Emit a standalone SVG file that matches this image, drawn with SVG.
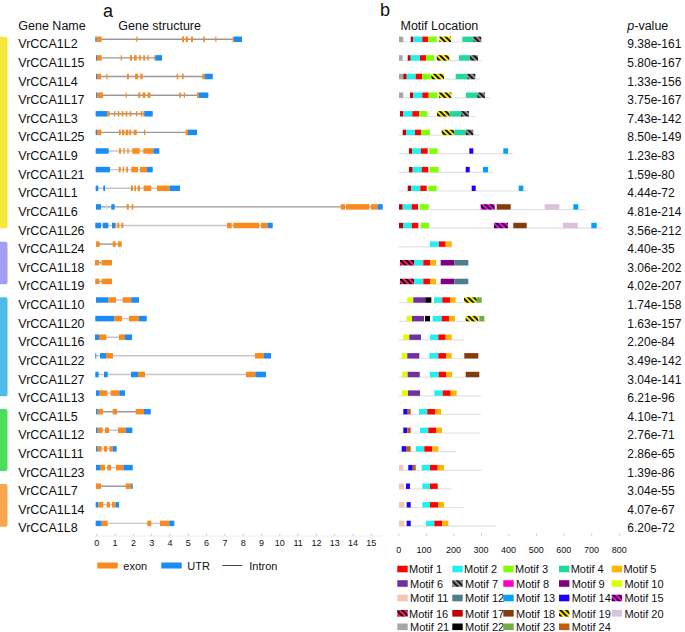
<svg xmlns="http://www.w3.org/2000/svg" width="685" height="632" viewBox="0 0 685 632">
<style>
text{font-family:"Liberation Sans",Arial,sans-serif;fill:#111}
.h{font-size:12.5px}
.n{font-size:12.5px}
.pv{font-size:12px}
.ax{font-size:9px;text-anchor:middle}
.lg{font-size:11px}
.i{stroke:#999;stroke-width:1.4}
.il{stroke:#c6c6c6;stroke-width:1.4}
.e{fill:#fb8a1e}
.u{fill:#1a8cf5}
.ml{stroke:#e2e2e2;stroke-width:1.2}
.m1{fill:#ff0000}.m2{fill:#22f0f0}.m3{fill:#80ff00}.m4{fill:#20d8a0}.m5{fill:#ffb400}
.m6{fill:#7030a0}.m7{fill:url(#p7)}.m8{fill:#ff00cc}.m9{fill:#800080}.m10{fill:#dcff00}
.m11{fill:#f4c6b0}.m12{fill:#4b7f8b}.m13{fill:#00a2ff}.m14{fill:#1a00ff}.m15{fill:url(#p15)}
.m16{fill:url(#p16)}.m17{fill:#c00000}.m18{fill:#843c0c}.m19{fill:url(#p19)}.m20{fill:#d9c3d9}
.m21{fill:#a6a6a6}.m22{fill:#000}.m23{fill:#70ad47}.m24{fill:#c55a11}
</style>
<defs>
<pattern id="p19" width="4" height="4" patternUnits="userSpaceOnUse" patternTransform="rotate(-45)"><rect width="4" height="4" fill="#ffee00"/><rect width="1.8" height="4" fill="#000"/></pattern>
<pattern id="p7" width="4" height="4" patternUnits="userSpaceOnUse" patternTransform="rotate(-45)"><rect width="4" height="4" fill="#8c8c8c"/><rect width="1.6" height="4" fill="#000"/></pattern>
<pattern id="p15" width="4" height="4" patternUnits="userSpaceOnUse" patternTransform="rotate(-45)"><rect width="4" height="4" fill="#ff00ff"/><rect width="1.8" height="4" fill="#000"/></pattern>
<pattern id="p16" width="4" height="4" patternUnits="userSpaceOnUse" patternTransform="rotate(-45)"><rect width="4" height="4" fill="#ff1a66"/><rect width="1.8" height="4" fill="#000"/></pattern>
</defs>
<rect width="685" height="632" fill="#fff"/>

<!-- headers -->
<g id="headers">
<text x="103" y="17" style="font-size:18px">a</text>
<text x="380" y="16" style="font-size:18px">b</text>
<text class="h" x="18.3" y="30">Gene Name</text>
<text class="h" x="118.3" y="30">Gene structure</text>
<text class="h" x="400.5" y="30">Motif Location</text>
<text class="h" x="627.3" y="30"><tspan font-style="italic">p</tspan>-value</text>
</g>

<!-- group bars -->
<g id="groups">
<rect x="-3" y="36.7" width="10.5" height="191.5" rx="2" fill="#f5e83b"/>
<rect x="-3" y="241.7" width="10.5" height="42.6" rx="2" fill="#a29ef5"/>
<rect x="-3" y="297.3" width="10.5" height="99" rx="2" fill="#4dbde8"/>
<rect x="-3" y="409" width="10.5" height="62" rx="2" fill="#4cdf5c"/>
<rect x="-3" y="484" width="10.5" height="42.7" rx="2" fill="#f9a64f"/>
</g>

<g id="connectors"></g>

<!-- rows -->
<g id="VrCCA1L2" transform="translate(0,39.3)">
<text class="n" x="18.3" y="9">VrCCA1L2</text>
<line class="i" x1="95.3" x2="242"/>
<rect class="u" x="95.3" y="-2.75" width="1.4" height="5.5"/><rect class="e" x="96.7" y="-2.75" width="5" height="5.5"/>
<rect class="e" x="136.3" y="-2.75" width="1.2" height="5.5"/><rect class="e" x="182" y="-2.75" width="2" height="5.5"/>
<rect class="e" x="185.7" y="-2.75" width="2.3" height="5.5"/><rect class="e" x="191" y="-2.75" width="2" height="5.5"/>
<rect class="e" x="203.3" y="-2.75" width="1.7" height="5.5"/><rect class="e" x="215.3" y="-2.75" width="1.1" height="5.5"/>
<rect class="e" x="232.7" y="-2.75" width="1.3" height="5.5"/><rect class="u" x="234" y="-2.75" width="8" height="5.5"/>
<line class="ml" x1="399" x2="482.7" y1="2.7" y2="2.7"/>
<rect class="m21" x="399" y="-2.7" width="4.3" height="5.4"/><rect class="m17" x="410.7" y="-2.7" width="2.6" height="5.4"/>
<rect class="m2" x="413.3" y="-2.7" width="9" height="5.4"/><rect class="m1" x="422.3" y="-2.7" width="6" height="5.4"/>
<rect class="m3" x="428.3" y="-2.7" width="8.4" height="5.4"/><rect class="m19" x="439.3" y="-2.7" width="11.7" height="5.4"/>
<rect class="m4" x="462.3" y="-2.7" width="11" height="5.4"/><rect class="m7" x="473.3" y="-2.7" width="8" height="5.4"/>
<text class="pv" x="627.3" y="9">9.38e-161</text>
</g>

<g id="VrCCA1L15" transform="translate(0,57.9)">
<text class="n" x="18.3" y="9">VrCCA1L15</text>
<line class="i" x1="96" x2="162"/>
<rect class="u" x="96" y="-2.75" width="1" height="5.5"/><rect class="e" x="97" y="-2.75" width="4.7" height="5.5"/>
<rect class="e" x="120.7" y="-2.75" width="1.1" height="5.5"/><rect class="e" x="130" y="-2.75" width="2" height="5.5"/>
<rect class="e" x="134" y="-2.75" width="2.7" height="5.5"/><rect class="e" x="139" y="-2.75" width="1.7" height="5.5"/>
<rect class="e" x="143.3" y="-2.75" width="1.7" height="5.5"/><rect class="e" x="147.3" y="-2.75" width="1.4" height="5.5"/>
<rect class="e" x="154.3" y="-2.75" width="1" height="5.5"/><rect class="u" x="155.3" y="-2.75" width="6.7" height="5.5"/>
<line class="ml" x1="399" x2="481.7" y1="2.7" y2="2.7"/>
<rect class="m21" x="399" y="-2.7" width="3.7" height="5.4"/><rect class="m17" x="407.7" y="-2.7" width="3" height="5.4"/>
<rect class="m2" x="410.7" y="-2.7" width="9.3" height="5.4"/><rect class="m1" x="420" y="-2.7" width="6" height="5.4"/>
<rect class="m3" x="426" y="-2.7" width="8.3" height="5.4"/><rect class="m19" x="436.7" y="-2.7" width="12.6" height="5.4"/>
<rect class="m4" x="459" y="-2.7" width="11" height="5.4"/><rect class="m7" x="470" y="-2.7" width="8" height="5.4"/>
<text class="pv" x="627.3" y="9">5.80e-167</text>
</g>

<g id="VrCCA1L4" transform="translate(0,76.5)">
<text class="n" x="18.3" y="9">VrCCA1L4</text>
<line class="i" x1="96" x2="212.7"/>
<rect class="u" x="96" y="-2.75" width="1" height="5.5"/><rect class="e" x="97" y="-2.75" width="4" height="5.5"/>
<rect class="e" x="106.3" y="-2.75" width="1.1" height="5.5"/><rect class="e" x="127" y="-2.75" width="2" height="5.5"/>
<rect class="e" x="135" y="-2.75" width="3" height="5.5"/><rect class="e" x="140.3" y="-2.75" width="2.4" height="5.5"/>
<rect class="e" x="176.7" y="-2.75" width="1.6" height="5.5"/><rect class="e" x="182" y="-2.75" width="1.7" height="5.5"/>
<rect class="e" x="202.3" y="-2.75" width="2.4" height="5.5"/><rect class="u" x="204.7" y="-2.75" width="8" height="5.5"/>
<line class="ml" x1="399" x2="480" y1="2.7" y2="2.7"/>
<rect class="m21" x="399" y="-2.7" width="4.3" height="5.4"/><rect class="m17" x="403.3" y="-2.7" width="3.4" height="5.4"/>
<rect class="m2" x="406.7" y="-2.7" width="9" height="5.4"/><rect class="m1" x="415.7" y="-2.7" width="6.3" height="5.4"/>
<rect class="m3" x="422" y="-2.7" width="8.7" height="5.4"/><rect class="m19" x="431.3" y="-2.7" width="12.7" height="5.4"/>
<rect class="m4" x="455.7" y="-2.7" width="11.6" height="5.4"/><rect class="m7" x="467.3" y="-2.7" width="8" height="5.4"/>
<text class="pv" x="627.3" y="9">1.33e-156</text>
</g>

<g id="VrCCA1L17" transform="translate(0,95.2)">
<text class="n" x="18.3" y="9">VrCCA1L17</text>
<line class="i" x1="96" x2="208.3"/>
<rect class="u" x="96" y="-2.75" width="1.3" height="5.5"/><rect class="e" x="97.3" y="-2.75" width="5.7" height="5.5"/>
<rect class="e" x="125.7" y="-2.75" width="1.1" height="5.5"/><rect class="e" x="138.3" y="-2.75" width="2" height="5.5"/>
<rect class="e" x="142.7" y="-2.75" width="2.6" height="5.5"/><rect class="e" x="147.7" y="-2.75" width="2.6" height="5.5"/>
<rect class="e" x="179.3" y="-2.75" width="1.7" height="5.5"/><rect class="e" x="183.7" y="-2.75" width="1.3" height="5.5"/>
<rect class="e" x="197" y="-2.75" width="2" height="5.5"/><rect class="u" x="199" y="-2.75" width="9.3" height="5.5"/>
<line class="ml" x1="399" x2="490" y1="2.7" y2="2.7"/>
<rect class="m21" x="399" y="-2.7" width="4.3" height="5.4"/><rect class="m17" x="410" y="-2.7" width="3.3" height="5.4"/>
<rect class="m2" x="413.3" y="-2.7" width="9" height="5.4"/><rect class="m1" x="422.3" y="-2.7" width="6.4" height="5.4"/>
<rect class="m3" x="428.7" y="-2.7" width="8.6" height="5.4"/><rect class="m19" x="439" y="-2.7" width="12.3" height="5.4"/>
<rect class="m4" x="466" y="-2.7" width="11.3" height="5.4"/><rect class="m7" x="477.3" y="-2.7" width="7.7" height="5.4"/>
<text class="pv" x="627.3" y="9">3.75e-167</text>
</g>

<g id="VrCCA1L3" transform="translate(0,113.8)">
<text class="n" x="18.3" y="9">VrCCA1L3</text>
<line class="i" x1="95.7" x2="152.7"/>
<rect class="u" x="95.7" y="-2.75" width="11.6" height="5.5"/><rect class="e" x="107.3" y="-2.75" width="2.4" height="5.5"/>
<rect class="e" x="114" y="-2.75" width="1.3" height="5.5"/><rect class="e" x="117.7" y="-2.75" width="1.6" height="5.5"/>
<rect class="e" x="121.7" y="-2.75" width="1.6" height="5.5"/><rect class="e" x="125.7" y="-2.75" width="1.6" height="5.5"/>
<rect class="e" x="129.7" y="-2.75" width="1.6" height="5.5"/><rect class="e" x="136" y="-2.75" width="1.3" height="5.5"/>
<rect class="e" x="140.7" y="-2.75" width="1.6" height="5.5"/><rect class="e" x="143.3" y="-2.75" width="1" height="5.5"/>
<rect class="u" x="144.3" y="-2.75" width="8.4" height="5.5"/>
<line class="ml" x1="399" x2="475.3" y1="2.7" y2="2.7"/>
<rect class="m17" x="400" y="-2.7" width="3.3" height="5.4"/>
<rect class="m2" x="403.3" y="-2.7" width="9" height="5.4"/><rect class="m1" x="412.3" y="-2.7" width="6.7" height="5.4"/>
<rect class="m3" x="419" y="-2.7" width="8.3" height="5.4"/><rect class="m19" x="437" y="-2.7" width="12.7" height="5.4"/>
<rect class="m4" x="449.7" y="-2.7" width="11.3" height="5.4"/><rect class="m7" x="461" y="-2.7" width="8" height="5.4"/>
<text class="pv" x="627.3" y="9">7.43e-142</text>
</g>

<g id="VrCCA1L25" transform="translate(0,132.4)">
<text class="n" x="18.3" y="9">VrCCA1L25</text>
<line class="i" x1="95.7" x2="197"/>
<rect class="u" x="95.7" y="-2.75" width="1.3" height="5.5"/><rect class="e" x="97" y="-2.75" width="4.3" height="5.5"/>
<rect class="e" x="119" y="-2.75" width="1.7" height="5.5"/><rect class="e" x="122" y="-2.75" width="2.3" height="5.5"/>
<rect class="e" x="125.7" y="-2.75" width="2.6" height="5.5"/><rect class="e" x="129.3" y="-2.75" width="2" height="5.5"/>
<rect class="e" x="133.7" y="-2.75" width="3" height="5.5"/><rect class="e" x="144" y="-2.75" width="1.3" height="5.5"/>
<rect class="e" x="185.7" y="-2.75" width="2.3" height="5.5"/><rect class="u" x="188" y="-2.75" width="9" height="5.5"/>
<line class="ml" x1="399" x2="479.3" y1="2.7" y2="2.7"/>
<rect class="m17" x="402.7" y="-2.7" width="3.3" height="5.4"/>
<rect class="m2" x="406" y="-2.7" width="9" height="5.4"/><rect class="m1" x="415" y="-2.7" width="6.3" height="5.4"/>
<rect class="m3" x="421.3" y="-2.7" width="8.7" height="5.4"/><rect class="m19" x="441.7" y="-2.7" width="12.6" height="5.4"/>
<rect class="m4" x="454.3" y="-2.7" width="11.4" height="5.4"/><rect class="m7" x="465.7" y="-2.7" width="7.6" height="5.4"/>
<text class="pv" x="627.3" y="9">8.50e-149</text>
</g>

<g id="VrCCA1L9" transform="translate(0,151)">
<text class="n" x="18.3" y="9">VrCCA1L9</text>
<line class="il" x1="95.7" x2="159.3"/>
<rect class="u" x="95.7" y="-2.75" width="13" height="5.5"/>
<rect class="e" x="119" y="-2.75" width="2" height="5.5"/><rect class="e" x="123.3" y="-2.75" width="1.4" height="5.5"/>
<rect class="e" x="127.3" y="-2.75" width="1.4" height="5.5"/><rect class="e" x="132.3" y="-2.75" width="7.4" height="5.5"/>
<rect class="e" x="143.3" y="-2.75" width="10" height="5.5"/><rect class="u" x="153.3" y="-2.75" width="6" height="5.5"/>
<line class="ml" x1="399" x2="512.7" y1="2.7" y2="2.7"/>
<rect class="m17" x="409" y="-2.7" width="3.3" height="5.4"/>
<rect class="m2" x="412.3" y="-2.7" width="8.7" height="5.4"/><rect class="m1" x="421" y="-2.7" width="6.7" height="5.4"/>
<rect class="m3" x="429.3" y="-2.7" width="8.4" height="5.4"/><rect class="m14" x="469.3" y="-2.7" width="4" height="5.4"/>
<rect class="m13" x="503.3" y="-2.7" width="4.7" height="5.4"/>
<text class="pv" x="627.3" y="9">1.23e-83</text>
</g>

<g id="VrCCA1L21" transform="translate(0,169.6)">
<text class="n" x="18.3" y="9">VrCCA1L21</text>
<line class="il" x1="95.7" x2="152.7"/>
<rect class="u" x="95.7" y="-2.75" width="14.3" height="5.5"/>
<rect class="e" x="118.7" y="-2.75" width="2" height="5.5"/><rect class="e" x="122.7" y="-2.75" width="1.3" height="5.5"/>
<rect class="e" x="126.3" y="-2.75" width="1.7" height="5.5"/><rect class="e" x="131.3" y="-2.75" width="6.7" height="5.5"/>
<rect class="e" x="140" y="-2.75" width="7" height="5.5"/><rect class="u" x="147" y="-2.75" width="5.7" height="5.5"/>
<line class="ml" x1="399" x2="492.7" y1="2.7" y2="2.7"/>
<rect class="m17" x="409" y="-2.7" width="3.7" height="5.4"/>
<rect class="m2" x="412.7" y="-2.7" width="9" height="5.4"/><rect class="m1" x="421.7" y="-2.7" width="6.6" height="5.4"/>
<rect class="m3" x="429.7" y="-2.7" width="9" height="5.4"/><rect class="m14" x="465.7" y="-2.7" width="4" height="5.4"/>
<rect class="m13" x="483" y="-2.7" width="5" height="5.4"/>
<text class="pv" x="627.3" y="9">1.59e-80</text>
</g>

<g id="VrCCA1L1" transform="translate(0,188.3)">
<text class="n" x="18.3" y="9">VrCCA1L1</text>
<line class="il" x1="95.7" x2="180"/>
<rect class="u" x="95.7" y="-2.75" width="2.6" height="5.5"/><rect class="u" x="103.3" y="-2.75" width="1.7" height="5.5"/>
<rect class="e" x="131" y="-2.75" width="2" height="5.5"/><rect class="e" x="134.3" y="-2.75" width="1.7" height="5.5"/>
<rect class="e" x="137.7" y="-2.75" width="2.3" height="5.5"/><rect class="e" x="143.7" y="-2.75" width="7.6" height="5.5"/>
<rect class="e" x="157" y="-2.75" width="12.7" height="5.5"/><rect class="u" x="169.7" y="-2.75" width="10.3" height="5.5"/>
<line class="ml" x1="399" x2="527.7" y1="2.7" y2="2.7"/>
<rect class="m17" x="407.7" y="-2.7" width="3.6" height="5.4"/>
<rect class="m2" x="411.3" y="-2.7" width="9" height="5.4"/><rect class="m1" x="420.3" y="-2.7" width="6.4" height="5.4"/>
<rect class="m3" x="428.3" y="-2.7" width="8.4" height="5.4"/><rect class="m14" x="471.7" y="-2.7" width="4" height="5.4"/>
<rect class="m13" x="518.7" y="-2.7" width="4.6" height="5.4"/>
<text class="pv" x="627.3" y="9">4.44e-72</text>
</g>

<g id="VrCCA1L6" transform="translate(0,206.9)">
<text class="n" x="18.3" y="9">VrCCA1L6</text>
<line class="i" x1="96" x2="382.7"/>
<rect class="u" x="96" y="-2.75" width="5" height="5.5"/><rect x="106.3" y="-2.75" width="0.9" height="5.5" fill="#b5d7fb"/>
<rect class="u" x="111.3" y="-2.75" width="3.4" height="5.5"/>
<rect class="e" x="126.7" y="-2.75" width="2" height="5.5"/><rect class="e" x="131.7" y="-2.75" width="1.6" height="5.5"/>
<rect class="e" x="340.7" y="-2.75" width="4.3" height="5.5"/><rect class="e" x="346" y="-2.75" width="23.3" height="5.5"/>
<rect class="e" x="371" y="-2.75" width="6.7" height="5.5"/><rect class="u" x="377.7" y="-2.75" width="5" height="5.5"/>
<line class="ml" x1="399" x2="585.7" y1="2.7" y2="2.7"/>
<rect class="m17" x="399" y="-2.7" width="3.7" height="5.4"/>
<rect class="m2" x="402.7" y="-2.7" width="9" height="5.4"/><rect class="m1" x="411.7" y="-2.7" width="6.3" height="5.4"/>
<rect class="m3" x="419.7" y="-2.7" width="9" height="5.4"/><rect class="m15" x="480.7" y="-2.7" width="14" height="5.4"/>
<rect class="m18" x="496.7" y="-2.7" width="14" height="5.4"/><rect class="m20" x="544.7" y="-2.7" width="14.6" height="5.4"/>
<rect class="m13" x="573.3" y="-2.7" width="5" height="5.4"/>
<text class="pv" x="627.3" y="9">4.81e-214</text>
</g>

<g id="VrCCA1L26" transform="translate(0,225.5)">
<text class="n" x="18.3" y="9">VrCCA1L26</text>
<line class="il" x1="95.3" x2="272.7"/>
<rect class="u" x="95.3" y="-2.75" width="5.7" height="5.5"/><rect class="u" x="102.7" y="-2.75" width="5.6" height="5.5"/>
<rect class="u" x="112" y="-2.75" width="3.3" height="5.5"/><rect class="e" x="115.3" y="-2.75" width="1" height="5.5"/>
<rect class="e" x="117.3" y="-2.75" width="2" height="5.5"/><rect class="e" x="121.3" y="-2.75" width="2" height="5.5"/>
<rect class="e" x="227" y="-2.75" width="4.7" height="5.5"/><rect class="e" x="233.3" y="-2.75" width="26" height="5.5"/>
<rect class="e" x="261" y="-2.75" width="6.7" height="5.5"/><rect class="u" x="267.7" y="-2.75" width="5" height="5.5"/>
<line class="ml" x1="399" x2="602.7" y1="2.7" y2="2.7"/>
<rect class="m17" x="399" y="-2.7" width="4" height="5.4"/>
<rect class="m2" x="403" y="-2.7" width="8.7" height="5.4"/><rect class="m1" x="411.7" y="-2.7" width="6.6" height="5.4"/>
<rect class="m3" x="420.7" y="-2.7" width="8.3" height="5.4"/><rect class="m15" x="494" y="-2.7" width="14" height="5.4"/>
<rect class="m18" x="513.3" y="-2.7" width="13.4" height="5.4"/><rect class="m20" x="563" y="-2.7" width="14.7" height="5.4"/>
<rect class="m13" x="591.3" y="-2.7" width="5.4" height="5.4"/>
<text class="pv" x="627.3" y="9">3.56e-212</text>
</g>

<g id="VrCCA1L24" transform="translate(0,244.1)">
<text class="n" x="18.3" y="9">VrCCA1L24</text>
<line class="i" x1="96" x2="121.7"/>
<rect class="e" x="96" y="-2.75" width="3.7" height="5.5"/><rect class="e" x="112.7" y="-2.75" width="3" height="5.5"/>
<rect class="e" x="118" y="-2.75" width="3.7" height="5.5"/>
<line class="ml" x1="399" x2="452.3" y1="2.7" y2="2.7"/>
<rect class="m2" x="430" y="-2.7" width="9" height="5.4"/><rect class="m1" x="439" y="-2.7" width="6.7" height="5.4"/>
<rect class="m5" x="445.7" y="-2.7" width="6" height="5.4"/>
<text class="pv" x="627.3" y="9">4.40e-35</text>
</g>

<g id="VrCCA1L18" transform="translate(0,262.7)">
<text class="n" x="18.3" y="9">VrCCA1L18</text>
<line class="i" x1="95" x2="112"/>
<rect class="e" x="95" y="-2.75" width="4" height="5.5"/><rect class="e" x="101.7" y="-2.75" width="10.3" height="5.5"/>
<line class="ml" x1="399" x2="468.3" y1="2.7" y2="2.7"/>
<rect class="m16" x="400" y="-2.7" width="14.3" height="5.4"/><rect class="m2" x="414.3" y="-2.7" width="9" height="5.4"/>
<rect class="m1" x="423.3" y="-2.7" width="6.7" height="5.4"/><rect class="m5" x="430" y="-2.7" width="6" height="5.4"/>
<rect class="m9" x="440.7" y="-2.7" width="13.6" height="5.4"/><rect class="m12" x="454.3" y="-2.7" width="14" height="5.4"/>
<text class="pv" x="627.3" y="9">3.06e-202</text>
</g>

<g id="VrCCA1L19" transform="translate(0,281.4)">
<text class="n" x="18.3" y="9">VrCCA1L19</text>
<line class="i" x1="95.3" x2="112"/>
<rect class="e" x="95.3" y="-2.75" width="4" height="5.5"/><rect class="e" x="101.7" y="-2.75" width="10.3" height="5.5"/>
<line class="ml" x1="399" x2="468.3" y1="2.7" y2="2.7"/>
<rect class="m16" x="400" y="-2.7" width="14.3" height="5.4"/><rect class="m2" x="414.3" y="-2.7" width="9" height="5.4"/>
<rect class="m1" x="423.3" y="-2.7" width="6.7" height="5.4"/><rect class="m5" x="430" y="-2.7" width="6" height="5.4"/>
<rect class="m9" x="440.7" y="-2.7" width="13.6" height="5.4"/><rect class="m12" x="454.3" y="-2.7" width="14" height="5.4"/>
<text class="pv" x="627.3" y="9">4.02e-207</text>
</g>

<g id="VrCCA1L10" transform="translate(0,300)">
<text class="n" x="18.3" y="9">VrCCA1L10</text>
<line class="il" x1="96" x2="139"/>
<rect class="u" x="96" y="-2.75" width="12.3" height="5.5"/><rect class="e" x="108.3" y="-2.75" width="7.7" height="5.5"/>
<rect class="e" x="122.7" y="-2.75" width="8.6" height="5.5"/><rect class="u" x="131.3" y="-2.75" width="7.7" height="5.5"/>
<line class="ml" x1="399" x2="481.7" y1="2.7" y2="2.7"/>
<rect class="m10" x="407.3" y="-2.7" width="6" height="5.4"/><rect class="m6" x="413.3" y="-2.7" width="12" height="5.4"/>
<rect class="m22" x="425.3" y="-2.7" width="6" height="5.4"/><rect class="m2" x="434" y="-2.7" width="8.3" height="5.4"/>
<rect class="m1" x="442.3" y="-2.7" width="7.7" height="5.4"/><rect class="m5" x="450" y="-2.7" width="5.7" height="5.4"/>
<rect class="m19" x="464" y="-2.7" width="12.7" height="5.4"/><rect class="m23" x="476.7" y="-2.7" width="5" height="5.4"/>
<text class="pv" x="627.3" y="9">1.74e-158</text>
</g>

<g id="VrCCA1L20" transform="translate(0,318.6)">
<text class="n" x="18.3" y="9">VrCCA1L20</text>
<line class="il" x1="95.3" x2="146.7"/>
<rect class="u" x="95.3" y="-2.75" width="19" height="5.5"/><rect class="e" x="114.3" y="-2.75" width="7.7" height="5.5"/>
<rect class="e" x="129" y="-2.75" width="10" height="5.5"/><rect class="u" x="139" y="-2.75" width="7.7" height="5.5"/>
<line class="ml" x1="399" x2="485.7" y1="2.7" y2="2.7"/>
<rect class="m10" x="406.7" y="-2.7" width="5.3" height="5.4"/><rect class="m6" x="412" y="-2.7" width="12" height="5.4"/>
<rect class="m22" x="425" y="-2.7" width="5" height="5.4"/><rect class="m2" x="432.7" y="-2.7" width="9" height="5.4"/>
<rect class="m1" x="441.7" y="-2.7" width="7.3" height="5.4"/><rect class="m5" x="449" y="-2.7" width="6" height="5.4"/>
<rect class="m19" x="465.7" y="-2.7" width="12.6" height="5.4"/><rect class="m23" x="479.3" y="-2.7" width="5" height="5.4"/>
<text class="pv" x="627.3" y="9">1.63e-157</text>
</g>

<g id="VrCCA1L16" transform="translate(0,337.2)">
<text class="n" x="18.3" y="9">VrCCA1L16</text>
<line class="il" x1="95" x2="132"/>
<rect class="u" x="95" y="-2.75" width="4" height="5.5"/><rect class="e" x="99" y="-2.75" width="7.3" height="5.5"/>
<rect class="e" x="119" y="-2.75" width="6" height="5.5"/><rect class="u" x="125" y="-2.75" width="7" height="5.5"/>
<line class="ml" x1="399" x2="464" y1="2.7" y2="2.7"/>
<rect class="m10" x="403.3" y="-2.7" width="6" height="5.4"/><rect class="m6" x="409.3" y="-2.7" width="11.7" height="5.4"/>
<rect class="m2" x="430" y="-2.7" width="8.3" height="5.4"/><rect class="m1" x="438.3" y="-2.7" width="7.4" height="5.4"/>
<rect class="m5" x="445.7" y="-2.7" width="6" height="5.4"/>
<text class="pv" x="627.3" y="9">2.20e-84</text>
</g>

<g id="VrCCA1L22" transform="translate(0,355.8)">
<text class="n" x="18.3" y="9">VrCCA1L22</text>
<line class="il" x1="95.3" x2="271"/>
<rect class="u" x="95.3" y="-2.75" width="1" height="5.5"/><rect class="u" x="100" y="-2.75" width="6" height="5.5"/>
<rect class="e" x="106" y="-2.75" width="7" height="5.5"/>
<rect class="e" x="255" y="-2.75" width="9" height="5.5"/><rect class="u" x="264" y="-2.75" width="7" height="5.5"/>
<line class="ml" x1="399" x2="479" y1="2.7" y2="2.7"/>
<rect class="m10" x="401.7" y="-2.7" width="5.6" height="5.4"/><rect class="m6" x="407.3" y="-2.7" width="12" height="5.4"/>
<rect class="m2" x="429.3" y="-2.7" width="9" height="5.4"/><rect class="m1" x="438.3" y="-2.7" width="7.7" height="5.4"/>
<rect class="m5" x="446" y="-2.7" width="5.7" height="5.4"/><rect class="m18" x="464.3" y="-2.7" width="14" height="5.4"/>
<text class="pv" x="627.3" y="9">3.49e-142</text>
</g>

<g id="VrCCA1L27" transform="translate(0,374.5)">
<text class="n" x="18.3" y="9">VrCCA1L27</text>
<line class="il" x1="95.3" x2="266"/>
<rect class="u" x="95.3" y="-2.75" width="3.4" height="5.5"/><rect class="u" x="104" y="-2.75" width="3.7" height="5.5"/>
<rect class="u" x="131" y="-2.75" width="7" height="5.5"/><rect class="e" x="138" y="-2.75" width="7" height="5.5"/>
<rect class="e" x="246" y="-2.75" width="9.3" height="5.5"/><rect class="u" x="255.3" y="-2.75" width="10.7" height="5.5"/>
<line class="ml" x1="399" x2="479" y1="2.7" y2="2.7"/>
<rect class="m10" x="402.3" y="-2.7" width="5.4" height="5.4"/><rect class="m6" x="407.7" y="-2.7" width="12" height="5.4"/>
<rect class="m2" x="430" y="-2.7" width="8.7" height="5.4"/><rect class="m1" x="438.7" y="-2.7" width="7.3" height="5.4"/>
<rect class="m5" x="446" y="-2.7" width="6" height="5.4"/><rect class="m18" x="465.7" y="-2.7" width="13.6" height="5.4"/>
<text class="pv" x="627.3" y="9">3.04e-141</text>
</g>

<g id="VrCCA1L13" transform="translate(0,393.1)">
<text class="n" x="18.3" y="9">VrCCA1L13</text>
<line class="il" x1="96" x2="125"/>
<rect class="u" x="96" y="-2.75" width="3.7" height="5.5"/><rect class="e" x="99.7" y="-2.75" width="7.6" height="5.5"/>
<rect class="e" x="110.7" y="-2.75" width="8.6" height="5.5"/><rect class="u" x="119.3" y="-2.75" width="5.7" height="5.5"/>
<line class="ml" x1="399" x2="480.7" y1="2.7" y2="2.7"/>
<rect class="m10" x="402" y="-2.7" width="6" height="5.4"/><rect class="m6" x="408" y="-2.7" width="12" height="5.4"/>
<rect class="m2" x="434.3" y="-2.7" width="8.4" height="5.4"/><rect class="m1" x="442.7" y="-2.7" width="8" height="5.4"/>
<rect class="m5" x="450.7" y="-2.7" width="6" height="5.4"/>
<text class="pv" x="627.3" y="9">6.21e-96</text>
</g>

<g id="VrCCA1L5" transform="translate(0,411.7)">
<text class="n" x="18.3" y="9">VrCCA1L5</text>
<line class="i" x1="96" x2="150.7"/>
<rect class="u" x="96" y="-2.75" width="1.7" height="5.5"/><rect class="e" x="97.7" y="-2.75" width="5.3" height="5.5"/>
<rect class="e" x="112.7" y="-2.75" width="4.3" height="5.5"/>
<rect class="e" x="135.7" y="-2.75" width="8.3" height="5.5"/><rect class="u" x="144" y="-2.75" width="6.7" height="5.5"/>
<line class="ml" x1="399" x2="480.7" y1="2.7" y2="2.7"/>
<rect class="m14" x="403.3" y="-2.7" width="4.4" height="5.4"/><rect class="m24" x="407.7" y="-2.7" width="3" height="5.4"/>
<rect class="m2" x="419" y="-2.7" width="8.3" height="5.4"/><rect class="m1" x="427.3" y="-2.7" width="7.7" height="5.4"/>
<rect class="m5" x="435" y="-2.7" width="6" height="5.4"/>
<text class="pv" x="627.3" y="9">4.10e-71</text>
</g>

<g id="VrCCA1L12" transform="translate(0,430.3)">
<text class="n" x="18.3" y="9">VrCCA1L12</text>
<line class="il" x1="96" x2="132.3"/>
<rect class="u" x="96" y="-2.75" width="1.7" height="5.5"/><rect class="e" x="97.7" y="-2.75" width="5" height="5.5"/>
<rect class="e" x="105" y="-2.75" width="4" height="5.5"/>
<rect class="e" x="118" y="-2.75" width="7.7" height="5.5"/><rect class="u" x="125.7" y="-2.75" width="6.6" height="5.5"/>
<line class="ml" x1="399" x2="480" y1="2.7" y2="2.7"/>
<rect class="m14" x="403.3" y="-2.7" width="4" height="5.4"/><rect class="m24" x="407.3" y="-2.7" width="3.4" height="5.4"/>
<rect class="m2" x="420" y="-2.7" width="8.3" height="5.4"/><rect class="m1" x="428.3" y="-2.7" width="7.7" height="5.4"/>
<rect class="m5" x="436" y="-2.7" width="6" height="5.4"/>
<text class="pv" x="627.3" y="9">2.76e-71</text>
</g>

<g id="VrCCA1L11" transform="translate(0,448.9)">
<text class="n" x="18.3" y="9">VrCCA1L11</text>
<line class="il" x1="96" x2="116.7"/>
<rect class="u" x="96" y="-2.75" width="1.7" height="5.5"/><rect class="e" x="97.7" y="-2.75" width="4" height="5.5"/>
<rect class="e" x="104" y="-2.75" width="3.3" height="5.5"/>
<rect class="e" x="109.3" y="-2.75" width="3.4" height="5.5"/><rect class="u" x="112.7" y="-2.75" width="4" height="5.5"/>
<line class="ml" x1="399" x2="456" y1="2.7" y2="2.7"/>
<rect class="m14" x="401.7" y="-2.7" width="4.3" height="5.4"/><rect class="m24" x="406" y="-2.7" width="4.7" height="5.4"/>
<rect class="m2" x="416" y="-2.7" width="8.3" height="5.4"/><rect class="m1" x="424.3" y="-2.7" width="8" height="5.4"/>
<rect class="m5" x="432.3" y="-2.7" width="6" height="5.4"/>
<text class="pv" x="627.3" y="9">2.86e-65</text>
</g>

<g id="VrCCA1L23" transform="translate(0,467.6)">
<text class="n" x="18.3" y="9">VrCCA1L23</text>
<line class="il" x1="96" x2="132.7"/>
<rect class="u" x="96" y="-2.75" width="4" height="5.5"/><rect class="e" x="100" y="-2.75" width="5" height="5.5"/>
<rect class="e" x="107.3" y="-2.75" width="3.7" height="5.5"/>
<rect class="e" x="116" y="-2.75" width="7.7" height="5.5"/><rect class="u" x="123.7" y="-2.75" width="9" height="5.5"/>
<line class="ml" x1="399" x2="481.7" y1="2.7" y2="2.7"/>
<rect class="m11" x="399" y="-2.7" width="4.3" height="5.4"/><rect class="m14" x="408.3" y="-2.7" width="4.4" height="5.4"/>
<rect class="m24" x="412.7" y="-2.7" width="3" height="5.4"/><rect class="m2" x="421.7" y="-2.7" width="8.3" height="5.4"/>
<rect class="m1" x="430" y="-2.7" width="7.7" height="5.4"/><rect class="m5" x="437.7" y="-2.7" width="6.3" height="5.4"/>
<text class="pv" x="627.3" y="9">1.39e-86</text>
</g>

<g id="VrCCA1L7" transform="translate(0,486.2)">
<text class="n" x="18.3" y="9">VrCCA1L7</text>
<line class="i" x1="96" x2="132.7"/>
<rect class="e" x="96" y="-2.75" width="5" height="5.5"/>
<rect class="e" x="125.7" y="-2.75" width="5.6" height="5.5"/><rect class="u" x="131.3" y="-2.75" width="1.4" height="5.5"/>
<line class="ml" x1="399" x2="451.7" y1="2.7" y2="2.7"/>
<rect class="m11" x="399" y="-2.7" width="5" height="5.4"/><rect class="m14" x="406" y="-2.7" width="4" height="5.4"/>
<rect class="m2" x="422.3" y="-2.7" width="7.7" height="5.4"/><rect class="m1" x="430" y="-2.7" width="7.7" height="5.4"/>
<text class="pv" x="627.3" y="9">3.04e-55</text>
</g>

<g id="VrCCA1L14" transform="translate(0,504.8)">
<text class="n" x="18.3" y="9">VrCCA1L14</text>
<line class="il" x1="95.7" x2="119"/>
<rect class="u" x="95.7" y="-2.75" width="2.6" height="5.5"/><rect class="e" x="98.3" y="-2.75" width="5" height="5.5"/>
<rect class="e" x="106.7" y="-2.75" width="3.3" height="5.5"/>
<rect class="e" x="112" y="-2.75" width="3.7" height="5.5"/><rect class="u" x="115.7" y="-2.75" width="3.3" height="5.5"/>
<line class="ml" x1="399" x2="462.7" y1="2.7" y2="2.7"/>
<rect class="m11" x="399" y="-2.7" width="5.3" height="5.4"/><rect class="m14" x="406.7" y="-2.7" width="4" height="5.4"/>
<rect class="m2" x="422.3" y="-2.7" width="7.7" height="5.4"/><rect class="m1" x="430" y="-2.7" width="8.3" height="5.4"/>
<rect class="m5" x="438.3" y="-2.7" width="5.7" height="5.4"/>
<text class="pv" x="627.3" y="9">4.07e-67</text>
</g>

<g id="VrCCA1L8" transform="translate(0,523.4)">
<text class="n" x="18.3" y="9">VrCCA1L8</text>
<line class="il" x1="95.7" x2="174.3"/>
<rect class="u" x="95.7" y="-2.75" width="6" height="5.5"/><rect class="e" x="101.7" y="-2.75" width="6" height="5.5"/>
<rect class="e" x="147.3" y="-2.75" width="4" height="5.5"/>
<rect class="e" x="160" y="-2.75" width="9.3" height="5.5"/><rect class="u" x="169.3" y="-2.75" width="5" height="5.5"/>
<line class="ml" x1="399" x2="495.7" y1="2.7" y2="2.7"/>
<rect class="m11" x="399" y="-2.7" width="5.3" height="5.4"/><rect class="m14" x="406.7" y="-2.7" width="4" height="5.4"/>
<rect class="m2" x="426" y="-2.7" width="8.3" height="5.4"/><rect class="m1" x="434.3" y="-2.7" width="8" height="5.4"/>
<rect class="m5" x="442.3" y="-2.7" width="6" height="5.4"/>
<text class="pv" x="627.3" y="9">6.20e-72</text>
</g>

<!-- gene structure axis -->
<g id="axis-gene">
<line x1="95" y1="536" x2="382" y2="536" stroke="#ececec" stroke-width="1"/>
<g stroke="#d0d0d0" stroke-width="1">
<line x1="96.8" y1="533.5" x2="96.8" y2="536"/><line x1="115.1" y1="533.5" x2="115.1" y2="536"/><line x1="133.4" y1="533.5" x2="133.4" y2="536"/><line x1="151.7" y1="533.5" x2="151.7" y2="536"/>
<line x1="170" y1="533.5" x2="170" y2="536"/><line x1="188.3" y1="533.5" x2="188.3" y2="536"/><line x1="206.6" y1="533.5" x2="206.6" y2="536"/><line x1="224.9" y1="533.5" x2="224.9" y2="536"/>
<line x1="243.2" y1="533.5" x2="243.2" y2="536"/><line x1="261.5" y1="533.5" x2="261.5" y2="536"/><line x1="279.8" y1="533.5" x2="279.8" y2="536"/><line x1="298.1" y1="533.5" x2="298.1" y2="536"/>
<line x1="316.4" y1="533.5" x2="316.4" y2="536"/><line x1="334.7" y1="533.5" x2="334.7" y2="536"/><line x1="353" y1="533.5" x2="353" y2="536"/><line x1="371.3" y1="533.5" x2="371.3" y2="536"/>
</g>
<text class="ax" x="96.8" y="545.5">0</text><text class="ax" x="115.1" y="545.5">1</text><text class="ax" x="133.4" y="545.5">2</text><text class="ax" x="151.7" y="545.5">3</text>
<text class="ax" x="170" y="545.5">4</text><text class="ax" x="188.3" y="545.5">5</text><text class="ax" x="206.6" y="545.5">6</text><text class="ax" x="224.9" y="545.5">7</text>
<text class="ax" x="243.2" y="545.5">8</text><text class="ax" x="261.5" y="545.5">9</text><text class="ax" x="279.8" y="545.5">10</text><text class="ax" x="298.1" y="545.5">11</text>
<text class="ax" x="316.4" y="545.5">12</text><text class="ax" x="334.7" y="545.5">13</text><text class="ax" x="353" y="545.5">14</text><text class="ax" x="371.3" y="545.5">15</text>
</g>

<!-- gene legend -->
<g id="legend-gene">
<rect class="e" x="97.3" y="562.5" width="20.4" height="6"/>
<text class="lg" x="123.3" y="569.5">exon</text>
<rect class="u" x="161.3" y="562.5" width="20.4" height="6"/>
<text class="lg" x="187.3" y="569.5">UTR</text>
<line x1="222.3" y1="565.5" x2="242.3" y2="565.5" stroke="#444" stroke-width="1"/>
<text class="lg" x="249.3" y="569.5">Intron</text>
</g>

<!-- motif axis -->
<g id="axis-motif">
<g stroke="#d0d0d0" stroke-width="1">
<line x1="398.8" y1="533.5" x2="398.8" y2="536"/><line x1="426.4" y1="533.5" x2="426.4" y2="536"/><line x1="453.9" y1="533.5" x2="453.9" y2="536"/>
<line x1="481.5" y1="533.5" x2="481.5" y2="536"/><line x1="509" y1="533.5" x2="509" y2="536"/><line x1="536.6" y1="533.5" x2="536.6" y2="536"/>
<line x1="564.2" y1="533.5" x2="564.2" y2="536"/><line x1="591.7" y1="533.5" x2="591.7" y2="536"/><line x1="619.3" y1="533.5" x2="619.3" y2="536"/>
</g>
<g style="font-size:9.5px">
<text class="ax" x="398.8" y="552.5">0</text><text class="ax" x="424" y="552.5">100</text><text class="ax" x="453.5" y="552.5">200</text>
<text class="ax" x="481" y="552.5">300</text><text class="ax" x="508.5" y="552.5">400</text><text class="ax" x="536.2" y="552.5">500</text>
<text class="ax" x="563.8" y="552.5">600</text><text class="ax" x="591.5" y="552.5">700</text><text class="ax" x="619.3" y="552.5">800</text>
</g>
</g>

<!-- motif legend -->
<g id="legend-motif">
<rect class="m1" x="397.3" y="565.7" width="10.4" height="6.6"/><text class="lg" x="409" y="573">Motif 1</text>
<rect class="m2" x="452.3" y="565.7" width="10.4" height="6.6"/><text class="lg" x="464" y="573">Motif 2</text>
<rect class="m3" x="503.3" y="565.7" width="10.4" height="6.6"/><text class="lg" x="515" y="573">Motif 3</text>
<rect class="m4" x="559" y="565.7" width="10.4" height="6.6"/><text class="lg" x="570.7" y="573">Motif 4</text>
<rect class="m5" x="611.7" y="565.7" width="10.4" height="6.6"/><text class="lg" x="623.4" y="573">Motif 5</text>

<rect class="m6" x="397.3" y="580.2" width="10.4" height="6.6"/><text class="lg" x="410" y="587.5">Motif 6</text>
<rect class="m7" x="452.3" y="580.2" width="10.4" height="6.6"/><text class="lg" x="465" y="587.5">Motif 7</text>
<rect class="m8" x="503.3" y="580.2" width="10.4" height="6.6"/><text class="lg" x="516" y="587.5">Motif 8</text>
<rect class="m9" x="559" y="580.2" width="10.4" height="6.6"/><text class="lg" x="571.7" y="587.5">Motif 9</text>
<rect class="m10" x="611.7" y="580.2" width="10.4" height="6.6"/><text class="lg" x="624.4" y="587.5">Motif 10</text>

<rect class="m11" x="397.3" y="594.7" width="10.4" height="6.6"/><text class="lg" x="410" y="602">Motif 11</text>
<rect class="m12" x="452.3" y="594.7" width="10.4" height="6.6"/><text class="lg" x="465" y="602">Motif 12</text>
<rect class="m13" x="503.3" y="594.7" width="10.4" height="6.6"/><text class="lg" x="516" y="602">Motif 13</text>
<rect class="m14" x="559" y="594.7" width="10.4" height="6.6"/><text class="lg" x="571.7" y="602">Motif 14</text>
<rect class="m15" x="611.7" y="594.7" width="10.4" height="6.6"/><text class="lg" x="624.4" y="602">Motif 15</text>

<rect class="m16" x="397.3" y="610" width="10.4" height="6.6"/><text class="lg" x="409" y="617.5">Motif 16</text>
<rect class="m17" x="452.3" y="610" width="10.4" height="6.6"/><text class="lg" x="465" y="617.5">Motif 17</text>
<rect class="m18" x="503.3" y="610" width="10.4" height="6.6"/><text class="lg" x="516" y="617.5">Motif 18</text>
<rect class="m19" x="559" y="610" width="10.4" height="6.6"/><text class="lg" x="571.7" y="617.5">Motif 19</text>
<rect class="m20" x="611.7" y="610" width="10.4" height="6.6"/><text class="lg" x="624.4" y="617.5">Motif 20</text>

<rect class="m21" x="397.3" y="623.5" width="10.4" height="6.6"/><text class="lg" x="410" y="631">Motif 21</text>
<rect class="m22" x="452.3" y="623.5" width="10.4" height="6.6"/><text class="lg" x="465" y="631">Motif 22</text>
<rect class="m23" x="503.3" y="623.5" width="10.4" height="6.6"/><text class="lg" x="516" y="631">Motif 23</text>
<rect class="m24" x="559" y="623.5" width="10.4" height="6.6"/><text class="lg" x="571.7" y="631">Motif 24</text>
</g>
</svg>
